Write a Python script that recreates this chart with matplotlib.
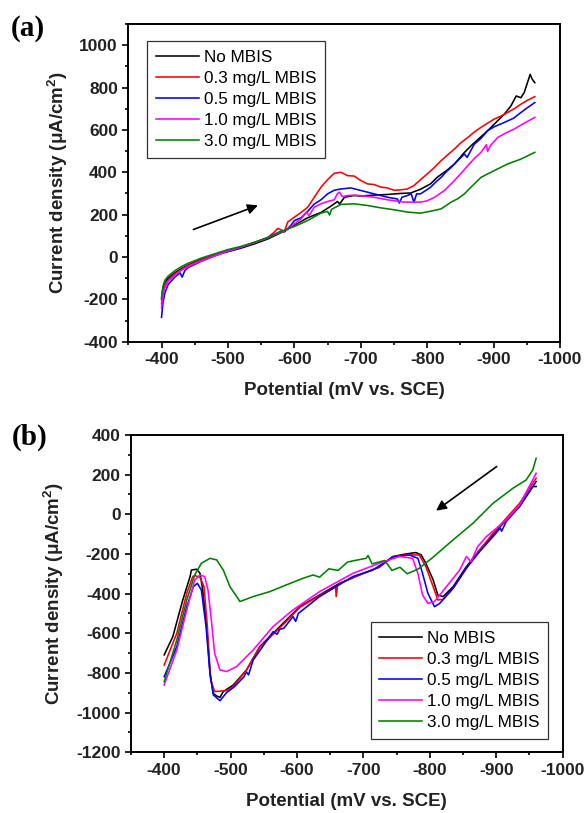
import matplotlib
matplotlib.use('Agg')
import matplotlib.pyplot as plt
from matplotlib.ticker import MultipleLocator

plt.rcParams['font.family'] = ['Liberation Sans', 'DejaVu Sans']
plt.rcParams['axes.unicode_minus'] = False
plt.rcParams['mathtext.default'] = 'regular'

# -------------------------------
# Data (a): anodic scan
# -------------------------------
labels = ['No MBIS', '0.3 mg/L MBIS', '0.5 mg/L MBIS', '1.0 mg/L MBIS', '3.0 mg/L MBIS']
colors = ['black', '#ff0000', '#0000ff', '#ff00ff', '#008000']

xa_black = [-400, -402, -405, -410, -420, -430, -440, -460, -480, -500, -520, -540, -560, -580, -600,
            -620, -640, -655, -665, -668, -675, -680, -690, -700, -720, -740, -760, -775, -790, -805,
            -815, -830, -841, -855, -866, -880, -891, -905, -916, -926, -934, -941, -946, -955, -958, -962]
ya_black = [-200, -150, -120, -100, -75, -55, -38, -12, 8, 25, 42, 62, 85, 115, 150,
            185, 210, 240, 262, 250, 280, 285, 290, 288, 292, 295, 300, 302, 320, 345,
            376, 410, 439, 490, 525, 565, 596, 640, 674, 713, 760, 752, 776, 862, 840, 823]

xa_red = [-400, -402, -405, -410, -420, -430, -440, -460, -480, -500, -520, -540, -560, -570, -575,
          -580, -585, -590, -600, -610, -620, -630, -640, -650, -660, -670, -680, -690, -700, -710,
          -720, -730, -740, -750, -760, -770, -780, -790, -800, -810, -821, -830, -841, -851, -861,
          -871, -881, -891, -901, -911, -921, -931, -941, -951, -962]
ya_red = [-220, -170, -135, -110, -80, -60, -40, -15, 8, 30, 48, 68, 92, 118, 135,
          128, 122, 165, 188, 210, 235, 282, 329, 365, 395, 400, 384, 382, 361, 345,
          342, 330, 326, 315, 317, 321, 337, 365, 392, 420, 455, 480, 510, 540, 564,
          590, 612, 632, 651, 665, 682, 700, 721, 740, 757]

xa_blue = [-400, -402, -405, -410, -420, -428, -431, -435, -440, -460, -480, -500, -520, -540, -560,
           -580, -585, -595, -600, -610, -620, -630, -640, -650, -660, -670, -685, -700, -720, -740,
           -755, -758, -762, -770, -776, -780, -784, -790, -805, -810, -815, -821, -828, -836, -846,
           -856, -860, -871, -881, -891, -901, -916, -930, -941, -951, -962]
ya_blue = [-285, -220, -170, -130, -95, -75, -95, -65, -50, -20, 5, 28, 45, 68, 92,
           122, 118, 150, 172, 185, 215, 250, 270, 298, 315, 321, 326, 314, 298, 282,
           274, 255, 282, 290, 298, 258, 298, 298, 329, 345, 360, 376, 400, 423, 455,
           486, 470, 533, 560, 596, 615, 635, 655, 682, 705, 729]

xa_mag = [-400, -402, -405, -410, -420, -430, -440, -460, -480, -500, -520, -540, -560, -580, -590,
          -600, -610, -618, -622, -630, -640, -650, -660, -665, -668, -672, -680, -690, -700, -720,
          -740, -765, -790, -800, -811, -826, -841, -851, -861, -871, -881, -889, -891, -895, -906,
          -918, -931, -945, -962]
ya_mag = [-240, -180, -145, -115, -85, -62, -45, -18, 5, 28, 47, 68, 90, 118, 130,
          157, 180, 212, 195, 235, 251, 262, 270, 300, 306, 285, 290, 292, 290, 282,
          270, 259, 259, 265, 282, 314, 361, 395, 431, 465, 494, 530, 498, 525, 564,
          585, 604, 630, 659]

xa_green = [-400, -402, -405, -410, -420, -430, -440, -460, -480, -500, -520, -540, -560, -580, -600,
            -620, -640, -650, -653, -656, -670, -690, -710, -730, -750, -770, -790, -805, -821, -836,
            -846, -856, -866, -881, -891, -901, -921, -941, -962]
ya_green = [-190, -140, -110, -90, -65, -45, -30, -5, 15, 35, 50, 70, 90, 120, 144,
            172, 207, 215, 198, 225, 248, 251, 243, 232, 223, 212, 207, 216, 227, 259,
            275, 298, 330, 376, 392, 408, 439, 462, 494]

# -------------------------------
# Data (b): cathodic scan
# -------------------------------
xb_black = [-400, -413, -428, -439, -441, -449, -454, -458, -464, -469, -474, -479, -484, -489, -504,
            -524, -544, -564, -584, -604, -634, -664, -694, -724, -744, -764, -779, -787, -794, -805,
            -812, -820, -835, -855, -875, -895, -915, -935, -955, -960]
yb_black = [-709, -617, -432, -314, -281, -277, -298, -382, -566, -802, -903, -916, -923, -894, -861,
            -785, -667, -600, -533, -466, -407, -348, -306, -267, -213, -200, -193, -205, -247, -331,
            -407, -415, -365, -264, -180, -104, -29, 39, 140, 140]

xb_red = [-400, -419, -434, -443, -446, -454, -460, -465, -470, -476, -494, -504, -524, -544, -564,
          -584, -604, -634, -658, -659, -661, -664, -694, -724, -744, -764, -784, -794, -805, -812,
          -820, -835, -855, -875, -895, -915, -935, -960]
yb_red = [-760, -600, -398, -314, -309, -318, -365, -566, -835, -894, -889, -869, -785, -670, -605,
          -540, -470, -410, -365, -415, -360, -350, -306, -265, -215, -205, -205, -264, -365, -432,
          -429, -373, -272, -180, -96, -20, 55, 182]

xb_blue = [-400, -419, -434, -444, -450, -456, -463, -469, -474, -484, -494, -506, -520, -524, -527,
           -534, -564, -570, -574, -580, -594, -598, -602, -634, -684, -714, -744, -769, -782, -789,
           -797, -807, -815, -835, -855, -875, -895, -906, -908, -915, -935, -960]
yb_blue = [-819, -667, -466, -365, -348, -382, -566, -802, -911, -940, -899, -869, -820, -795, -810,
           -735, -592, -605, -580, -575, -516, -540, -500, -415, -314, -281, -217, -205, -222, -298,
           -398, -466, -449, -373, -272, -188, -113, -70, -85, -37, 39, 165]

xb_mag = [-400, -419, -434, -446, -454, -461, -466, -471, -476, -484, -494, -509, -534, -564, -594,
          -634, -684, -724, -754, -774, -782, -789, -797, -807, -825, -845, -855, -862, -872, -885,
          -915, -935, -960]
yb_mag = [-861, -684, -482, -331, -306, -314, -382, -533, -701, -785, -793, -768, -684, -566, -482,
          -390, -298, -247, -213, -222, -298, -407, -449, -440, -365, -281, -213, -239, -163, -113,
          -29, 47, 207]

xb_green = [-400, -419, -434, -446, -456, -469, -479, -489, -499, -511, -514, -534, -559, -584, -609,
            -624, -634, -648, -662, -676, -684, -704, -707, -713, -732, -743, -755, -766, -783, -805,
            -835, -865, -895, -925, -945, -955, -960]
yb_green = [-844, -634, -432, -306, -247, -222, -230, -281, -365, -424, -440, -415, -390, -356, -323,
            -306, -317, -275, -283, -241, -235, -222, -208, -250, -233, -283, -267, -300, -275, -216,
            -129, -45, 55, 131, 173, 224, 282]

series_a = [(xa_black, ya_black), (xa_red, ya_red), (xa_blue, ya_blue), (xa_mag, ya_mag), (xa_green, ya_green)]
series_b = [(xb_black, yb_black), (xb_red, yb_red), (xb_blue, yb_blue), (xb_mag, yb_mag), (xb_green, yb_green)]

# -------------------------------
# Figure
# -------------------------------
fig = plt.figure(figsize=(5.86, 8.13), dpi=100)
ax_a = fig.add_axes([0.219, 0.5797, 0.7367, 0.3908])
ax_b = fig.add_axes([0.2235, 0.0747, 0.7367, 0.3903])


def style_axis(ax, ylim, ymajor):
    ax.set_xlim(-350, -1000)
    ax.set_ylim(*ylim)
    ax.xaxis.set_major_locator(MultipleLocator(100))
    ax.xaxis.set_minor_locator(MultipleLocator(50))
    ax.yaxis.set_major_locator(MultipleLocator(ymajor))
    ax.yaxis.set_minor_locator(MultipleLocator(ymajor / 2))
    ax.tick_params(which='both', direction='out', top=False, right=False, width=1.2)
    ax.tick_params(which='major', length=4.5, labelsize=12.5, pad=3)
    ax.tick_params(which='minor', length=2.5)
    for lab in ax.get_xticklabels() + ax.get_yticklabels():
        lab.set_fontweight('bold')
        lab.set_color('#222222')
    for sp in ax.spines.values():
        sp.set_linewidth(1.4)
    ax.set_xlabel('Potential (mV vs. SCE)', fontsize=13.5, fontweight='bold', labelpad=11, color='#222222')
    ax.set_ylabel('Current density ($\\mu$A/cm$^{2}$)', fontsize=13.5, fontweight='bold', labelpad=7,
                  color='#222222')


def add_legend(ax, loc, anchor):
    leg = ax.legend(loc=loc, bbox_to_anchor=anchor, fontsize=12.3, frameon=True,
                    fancybox=False, edgecolor='black', handlelength=2.5, handletextpad=0.3,
                    labelspacing=0.36, borderpad=0.5, borderaxespad=0)
    leg.get_frame().set_linewidth(0.9)


for (x, y), c, lab in zip(series_a, colors, labels):
    ax_a.plot(x, y, color=c, lw=1.15, label=lab)
style_axis(ax_a, (-400, 1100), 200)
ax_a.set_yticks(range(-400, 1001, 200))
ax_a.annotate('', xy=(-549, 248), xytext=(-444, 125),
              arrowprops=dict(arrowstyle='-|>', color='black', lw=1.2, mutation_scale=15))
add_legend(ax_a, 'upper left', (0.044, 0.9465))

for (x, y), c, lab in zip(series_b, colors, labels):
    ax_b.plot(x, y, color=c, lw=1.15, label=lab)
style_axis(ax_b, (-1200, 400), 200)
ax_b.annotate('', xy=(-806, 10), xytext=(-904, 249),
              arrowprops=dict(arrowstyle='-|>', color='black', lw=1.2, mutation_scale=15))
add_legend(ax_b, 'lower right', (0.9667, 0.042))

# panel labels
fig.text(0.047, 0.965, '(a)', family='Liberation Serif', fontweight='bold', fontsize=21,
         ha='center', va='center')
fig.text(0.051, 0.4625, '(b)', family='Liberation Serif', fontweight='bold', fontsize=21,
         ha='center', va='center')

fig.savefig('out.png', dpi=100)
